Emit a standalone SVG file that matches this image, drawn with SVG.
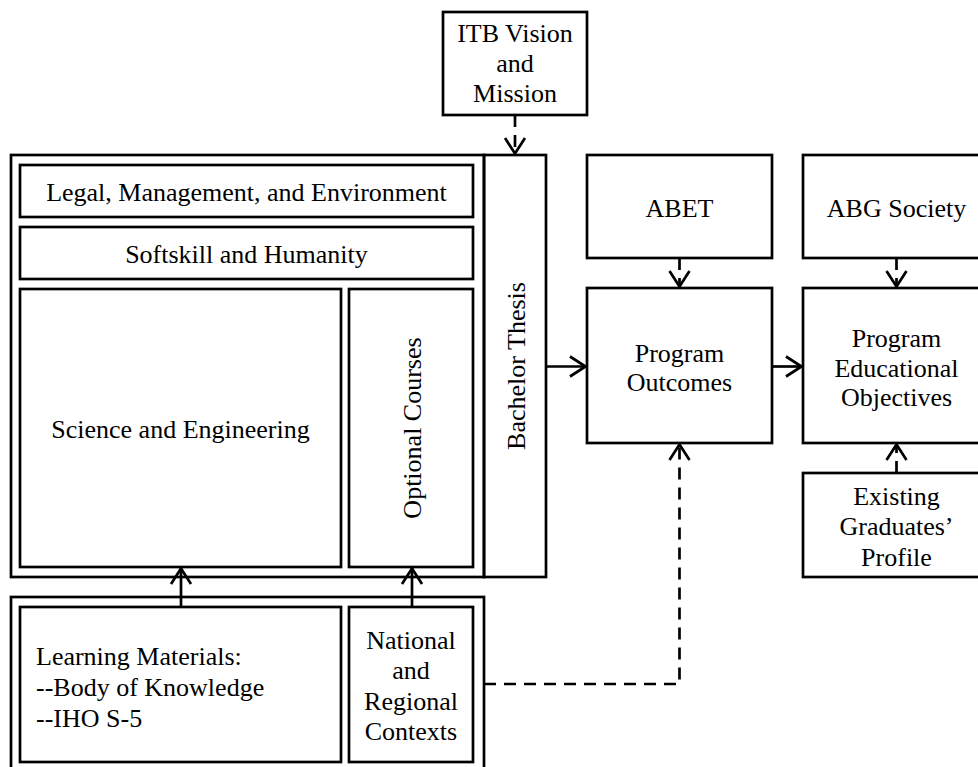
<svg xmlns="http://www.w3.org/2000/svg" width="978" height="767" viewBox="0 0 978 767">
<defs>
<style>
.box{fill:none;stroke:#000;stroke-width:2.7}
.t{font-family:"Liberation Serif","Times New Roman",serif;font-size:26px;fill:#000;text-anchor:middle}
.ts{text-anchor:start}
.conn{fill:none;stroke:#000;stroke-width:2.7}
.dash{stroke-dasharray:12 8}
</style>
<marker id="arr" markerUnits="userSpaceOnUse" markerWidth="30" markerHeight="30" viewBox="-20 -15 30 30" refX="0" refY="0" orient="auto">
<path d="M-17,-10 L-1.5,0 L-17,10" fill="none" stroke="#000" stroke-width="2.7" stroke-dasharray="none"/>
</marker>
</defs>
<rect width="978" height="767" fill="#fff"/>
<g id="itb">
<rect class="box" x="443" y="12" width="144" height="103"/>
<text class="t" x="515" y="42">ITB Vision</text>
<text class="t" x="515" y="72">and</text>
<text class="t" x="515" y="102">Mission</text>
</g>
<g id="curriculum">
<rect class="box" x="11" y="155" width="473" height="422"/>
</g>
<g id="legal">
<rect class="box" x="20" y="165" width="453" height="52"/>
<text class="t" x="246.5" y="201">Legal, Management, and Environment</text>
</g>
<g id="softskill">
<rect class="box" x="20" y="227" width="453" height="52"/>
<text class="t" x="246.5" y="263">Softskill and Humanity</text>
</g>
<g id="science">
<rect class="box" x="20" y="289" width="321" height="278"/>
<text class="t" x="180.5" y="438">Science and Engineering</text>
</g>
<g id="optional">
<rect class="box" x="349" y="289" width="124" height="278"/>
<text class="t" transform="translate(411,428) rotate(-90)" x="0" y="10">Optional Courses</text>
</g>
<g id="thesis">
<rect class="box" x="484" y="155" width="62" height="422"/>
<text class="t" transform="translate(515,366) rotate(-90)" x="0" y="10">Bachelor Thesis</text>
</g>
<g id="abet">
<rect class="box" x="587" y="155" width="185" height="103"/>
<text class="t" x="679.5" y="217">ABET</text>
</g>
<g id="abg">
<rect class="box" x="803" y="155" width="187" height="103"/>
<text class="t" x="896.5" y="217">ABG Society</text>
</g>
<g id="po">
<rect class="box" x="587" y="288" width="185" height="155"/>
<text class="t" x="679.5" y="362">Program</text>
<text class="t" x="679.5" y="391">Outcomes</text>
</g>
<g id="peo">
<rect class="box" x="803" y="288" width="187" height="155"/>
<text class="t" x="896.5" y="347">Program</text>
<text class="t" x="896.5" y="376.5">Educational</text>
<text class="t" x="896.5" y="406">Objectives</text>
</g>
<g id="existing">
<rect class="box" x="803" y="473" width="187" height="104"/>
<text class="t" x="896.5" y="505">Existing</text>
<text class="t" x="896.5" y="535">Graduates’</text>
<text class="t" x="896.5" y="566">Profile</text>
</g>
<g id="inputs">
<rect class="box" x="11" y="597" width="473" height="185"/>
</g>
<g id="learning">
<rect class="box" x="20" y="607" width="321" height="155"/>
<text class="t ts" x="36" y="665">Learning Materials:</text>
<text class="t ts" x="36" y="695.5">--Body of Knowledge</text>
<text class="t ts" x="36" y="726.5">--IHO S-5</text>
</g>
<g id="national">
<rect class="box" x="349" y="607" width="124" height="155"/>
<text class="t" x="411" y="648.5">National</text>
<text class="t" x="411" y="679">and</text>
<text class="t" x="411" y="709.5">Regional</text>
<text class="t" x="411" y="740">Contexts</text>
</g>
<g id="connectors">
<path class="conn dash" d="M515,115 V155" marker-end="url(#arr)"/>
<path class="conn" d="M546,366.5 H587" marker-end="url(#arr)"/>
<path class="conn" d="M772,366.5 H803" marker-end="url(#arr)"/>
<path class="conn dash" d="M679.5,258 V288" marker-end="url(#arr)"/>
<path class="conn dash" d="M896.5,258 V288" marker-end="url(#arr)"/>
<path class="conn dash" d="M896.5,473 V443" marker-end="url(#arr)"/>
<path class="conn" d="M181,607 V567" marker-end="url(#arr)"/>
<path class="conn" d="M412,607 V567" marker-end="url(#arr)"/>
<path class="conn dash" d="M484,684 H679.5 V443" marker-end="url(#arr)"/>
</g>
</svg>
